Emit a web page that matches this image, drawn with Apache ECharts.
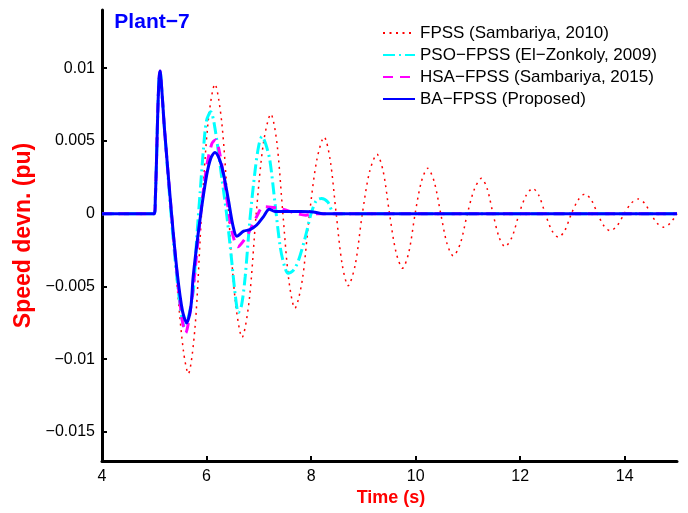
<!DOCTYPE html>
<html>
<head>
<meta charset="utf-8">
<script src="https://cdn.jsdelivr.net/npm/echarts@6/dist/echarts.min.js"></script>
<style>html,body{margin:0;padding:0;background:#fff}#c{width:688px;height:513px}</style>
</head>
<body>
<div id="c"></div>
<script>
// ---- data (time in s, speed deviation in pu) ----
const seriesNames = ['FPSS (Sambariya, 2010)', 'PSO\u2212FPSS (El\u2212Zonkoly, 2009)', 'HSA\u2212FPSS (Sambariya, 2015)', 'BA\u2212FPSS (Proposed)'];

const tFPSS = [4, 5.0, 5.02, 5.11, 5.2, 5.33, 5.45, 5.56, 5.65, 5.78, 5.905, 6.03, 6.16, 6.29, 6.42, 6.55, 6.68, 6.815, 6.95, 7.09, 7.23, 7.345, 7.46, 7.575, 7.69, 7.83, 7.97, 8.11, 8.25, 8.365, 8.48, 8.595, 8.71, 8.845, 8.98, 9.12, 9.26, 9.38, 9.5, 9.625, 9.75, 9.87, 9.99, 10.11, 10.23, 10.355, 10.48, 10.6, 10.72, 10.855, 10.99, 11.125, 11.26, 11.37, 11.48, 11.595, 11.71, 11.845, 11.98, 12.11, 12.24, 12.36, 12.48, 12.605, 12.73, 12.855, 12.98, 13.11, 13.24, 13.36, 13.48, 13.6, 13.72, 13.855, 13.99, 14.125, 14.26, 14.38, 14.5, 14.62, 14.74, 14.87, 15.0];
const vFPSS = [0, 0, 1.0e-3, 9.8e-3, 6.0e-3, 0, -5.5e-3, -9.5e-3, -11.0e-3, -7.8e-3, 0, 6.3e-3, 8.9e-3, 6.3e-3, 0, -6.0e-3, -8.5e-3, -6.0e-3, 0, 4.9e-3, 6.85e-3, 4.9e-3, 0, -4.6e-3, -6.5e-3, -4.6e-3, 0, 3.7e-3, 5.27e-3, 3.7e-3, 0, -3.5e-3, -4.95e-3, -3.5e-3, 0, 2.9e-3, 4.08e-3, 2.9e-3, 0, -2.65e-3, -3.75e-3, -2.65e-3, 0, 2.2e-3, 3.12e-3, 2.2e-3, 0, -2.05e-3, -2.9e-3, -2.05e-3, 0, 1.7e-3, 2.43e-3, 1.7e-3, 0, -1.6e-3, -2.27e-3, -1.6e-3, 0, 1.23e-3, 1.74e-3, 1.23e-3, 0, -1.15e-3, -1.62e-3, -1.15e-3, 0, 0.95e-3, 1.35e-3, 0.95e-3, 0, -0.83e-3, -1.17e-3, -0.83e-3, 0, 0.72e-3, 1.01e-3, 0.72e-3, 0, -0.66e-3, -0.93e-3, -0.66e-3, 0];

const tPSO = [4, 5.0, 5.02, 5.11, 5.2, 5.32, 5.43, 5.52, 5.58, 5.66, 5.75, 5.81, 5.88, 5.94, 6.0, 6.08, 6.16, 6.29, 6.39, 6.48, 6.55, 6.61, 6.67, 6.74, 6.83, 6.93, 7.0, 7.06, 7.13, 7.21, 7.31, 7.41, 7.49, 7.56, 7.66, 7.76, 7.89, 8.0, 8.1, 8.2, 8.32, 8.46, 15];
const vPSO = [0, 0, 1.0e-3, 9.8e-3, 5.6e-3, 0, -4.3e-3, -7.0e-3, -7.8e-3, -7.0e-3, -5.2e-3, -1.8e-3, 1.6e-3, 4.4e-3, 6.4e-3, 7.0e-3, 5.9e-3, 2.5e-3, -0.2e-3, -3.2e-3, -5.6e-3, -6.8e-3, -6.3e-3, -4.3e-3, -0.4e-3, 3.0e-3, 4.7e-3, 5.3e-3, 4.8e-3, 3.7e-3, 0.7e-3, -2.3e-3, -3.6e-3, -4.1e-3, -3.9e-3, -3.2e-3, -1.6e-3, 0, 0.9e-3, 1.05e-3, 0.8e-3, 0, 0];

const tHSA = [4, 5.0, 5.02, 5.11, 5.2, 5.33, 5.44, 5.53, 5.6, 5.68, 5.76, 5.88, 6.0, 6.1, 6.17, 6.26, 6.35, 6.45, 6.52, 6.6, 6.7, 6.8, 6.96, 7.09, 7.41, 7.73, 7.9, 8.1, 15];
const vHSA = [0, 0, 1.0e-3, 9.8e-3, 5.6e-3, 0, -4.3e-3, -7.2e-3, -8.2e-3, -6.9e-3, -4.6e-3, -0.3e-3, 3.2e-3, 4.8e-3, 5.07e-3, 4.0e-3, 2.0e-3, -0.5e-3, -1.7e-3, -2.27e-3, -1.9e-3, -1.35e-3, -0.2e-3, 0.48e-3, 0.35e-3, 0, -0.1e-3, 0, 0];

const tBA = [4, 5.0, 5.02, 5.11, 5.2, 5.33, 5.44, 5.54, 5.62, 5.7, 5.745, 5.875, 6.0, 6.08, 6.16, 6.24, 6.32, 6.42, 6.51, 6.58, 6.71, 6.83, 6.96, 7.09, 7.2, 7.31, 7.8, 8.04, 8.23, 15];
const vBA = [0, 0, 1.0e-3, 9.8e-3, 5.6e-3, 0, -4.1e-3, -6.7e-3, -7.5e-3, -6.4e-3, -4.3e-3, -0.4e-3, 2.6e-3, 3.8e-3, 4.2e-3, 3.8e-3, 2.8e-3, 0.9e-3, -0.9e-3, -1.55e-3, -1.2e-3, -1.1e-3, -0.78e-3, -0.2e-3, 0.3e-3, 0.15e-3, 0.15e-3, 0.12e-3, 0, 0];

const xTicks = [4, 6, 8, 10, 12, 14];
const yTicks = [-0.015, -0.01, -0.005, 0, 0.005, 0.01];

// ---- chart ----
const pair = (t, v) => t.map((x, i) => [x, v[i]]);
const FONT = '"Liberation Sans", Arial, sans-serif';
const chart = echarts.init(document.getElementById('c'), null, {renderer: 'canvas'});

const styles = [
  {color: '#ff0000', width: 1.5, type: [2, 4.5], smooth: 0.3},
  {color: '#00ffff', width: 3, type: [12, 4, 2, 4], smooth: 0.3},
  {color: '#ff00ff', width: 3, type: [10, 7], smooth: 0.3},
  {color: '#0000ff', width: 3, type: 'solid', smooth: 0.3}
];
const datasets = [pair(tFPSS, vFPSS), pair(tPSO, vPSO), pair(tHSA, vHSA), pair(tBA, vBA)];

chart.setOption({
  animation: false,
  backgroundColor: '#ffffff',
  grid: {left: 102, right: 11, top: 10, bottom: 52},
  legend: {
    orient: 'vertical', left: 377, top: 19,
    itemWidth: 32, itemHeight: 14, itemGap: 4,
    itemStyle: {opacity: 0},
    textStyle: {fontFamily: FONT, fontSize: 17, color: '#000', lineHeight: 18},
    data: seriesNames
  },
  xAxis: {
    type: 'value', min: 4, max: 15,
    axisLine: {show: true, onZero: false, lineStyle: {color: '#000', width: 3}},
    axisTick: {show: true, inside: true, length: 5, lineStyle: {color: '#000', width: 2}, customValues: xTicks},
    axisLabel: {color: '#000', fontFamily: FONT, fontSize: 16, margin: 8, customValues: xTicks},
    splitLine: {show: false}
  },
  yAxis: {
    type: 'value', min: -0.017, max: 0.014,
    axisLine: {show: true, onZero: false, lineStyle: {color: '#000', width: 3}},
    axisTick: {show: true, inside: true, length: 5, lineStyle: {color: '#000', width: 2}, customValues: yTicks},
    axisLabel: {color: '#000', fontFamily: FONT, fontSize: 16, margin: 7, customValues: yTicks,
      formatter: v => v === 0 ? '0' : (v < 0 ? '\u2212' : '') + String(+Math.abs(v).toFixed(4))},
    splitLine: {show: false}
  },
  graphic: [
    {type: 'text', x: 24, y: 235.5, rotation: Math.PI / 2,
      style: {text: 'Speed devn. (pu)', fill: '#ff0000', font: 'bold 23px ' + FONT, textAlign: 'center', textVerticalAlign: 'middle'}},
    {type: 'text', x: 391, y: 498,
      style: {text: 'Time (s)', fill: '#ff0000', font: 'bold 18px ' + FONT, textAlign: 'center', textVerticalAlign: 'middle'}},
    {type: 'text', x: 152, y: 22,
      style: {text: 'Plant\u22127', fill: '#0000ff', font: 'bold 21px ' + FONT, textAlign: 'center', textVerticalAlign: 'middle'}}
  ],
  series: seriesNames.map((name, i) => ({
    name: name, type: 'line', data: datasets[i],
    symbol: 'none', smooth: styles[i].smooth, z: 2 + i,
    lineStyle: {color: styles[i].color, width: styles[i].width, type: styles[i].type},
    itemStyle: {color: styles[i].color}
  }))
});
</script>
</body>
</html>
